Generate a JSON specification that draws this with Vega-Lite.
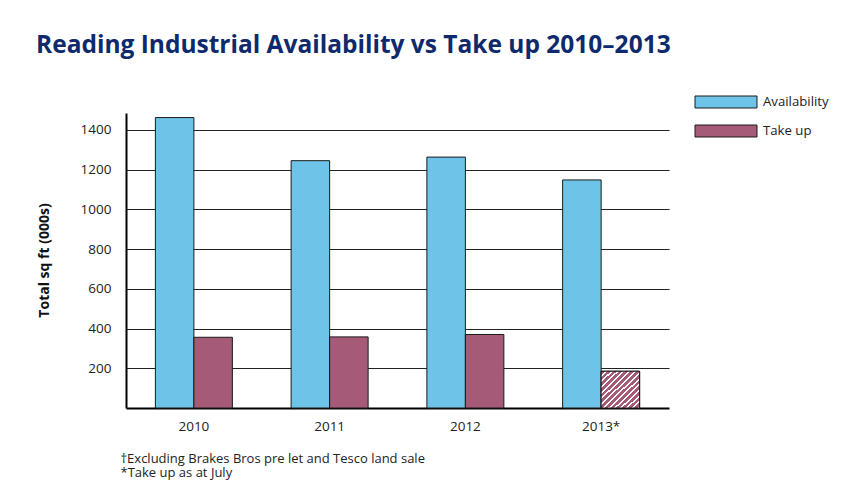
{
  "$schema": "https://vega.github.io/schema/vega-lite/v6.json",
  "autosize": "none",
  "padding": {"left": 126, "top": 113, "right": 195, "bottom": 83},
  "width": 543,
  "height": 295,
  "background": "white",
  "title": {
    "text": "Reading Industrial Availability vs Take up 2010–2013",
    "anchor": "start",
    "frame": "group",
    "dx": -90,
    "offset": 33,
    "font": "Open Sans",
    "fontSize": 24.5,
    "fontWeight": "bold",
    "color": "#0E2A6C"
  },
  "config": {
    "view": {"stroke": null},
    "font": "Open Sans"
  },
  "data": {
    "values": [
      {"year": "2010", "series": "Availability", "value": 1462, "partial": false},
      {"year": "2010", "series": "Take up", "value": 356, "partial": false},
      {"year": "2011", "series": "Availability", "value": 1245, "partial": false},
      {"year": "2011", "series": "Take up", "value": 358, "partial": false},
      {"year": "2012", "series": "Availability", "value": 1263, "partial": false},
      {"year": "2012", "series": "Take up", "value": 370, "partial": false},
      {"year": "2013*", "series": "Availability", "value": 1148, "partial": false},
      {"year": "2013*", "series": "Take up", "value": 185, "partial": true}
    ]
  },
  "encoding": {
    "x": {
      "field": "year",
      "type": "nominal",
      "sort": null,
      "scale": {"paddingInner": 0.433, "paddingOuter": 0.2165},
      "axis": {
        "title": ["†Excluding Brakes Bros pre let and Tesco land sale", "*Take up as at July"],
        "titleAnchor": "start",
        "titleAlign": "left",
        "titleBaseline": "top",
        "titleX": -6,
        "titleY": 44,
        "titleFontSize": 13,
        "titleFontWeight": "normal",
        "titleColor": "#222222",
        "titleLineHeight": 14,
        "labelAngle": 0,
        "labelFontSize": 13.5,
        "labelColor": "#222222",
        "labelPadding": 11,
        "ticks": false,
        "domainColor": "#000000",
        "domainWidth": 2,
        "grid": false
      }
    },
    "xOffset": {"field": "series", "type": "nominal", "scale": {"paddingInner": 0, "paddingOuter": 0}},
    "y": {
      "field": "value",
      "type": "quantitative",
      "scale": {"domain": [0, 1485], "nice": false},
      "axis": {
        "title": "Total sq ft (000s)",
        "titleFontSize": 14,
        "titleFontWeight": "bold",
        "titleColor": "#111111",
        "titleAngle": -90,
        "titleX": -82,
        "titleY": 147,
        "titleAlign": "center",
        "titleBaseline": "middle",
        "values": [200, 400, 600, 800, 1000, 1200, 1400],
        "format": "d",
        "labelFontSize": 13.5,
        "labelColor": "#222222",
        "labelPadding": 15,
        "ticks": false,
        "domainColor": "#000000",
        "domainWidth": 2,
        "grid": true,
        "gridColor": "#222222",
        "gridWidth": 1.2
      }
    }
  },
  "layer": [
    {
      "mark": {"type": "bar", "stroke": "#1a1a1a", "strokeWidth": 1},
      "encoding": {
        "color": {
          "field": "series",
          "type": "nominal",
          "scale": {"domain": ["Availability", "Take up"], "range": ["#6EC4E8", "#A55A77"]},
          "legend": {
            "title": null,
            "orient": "none",
            "legendX": 589,
            "legendY": -22,
            "symbolType": "M-3,-0.58L3,-0.58L3,0.58L-3,0.58Z",
            "symbolSize": 427,
            "symbolStrokeColor": "#1a1a1a",
            "symbolStrokeWidth": 1,
            "symbolOpacity": 1,
            "labelFontSize": 13.2,
            "labelColor": "#222222",
            "labelOffset": 26,
            "rowPadding": 10
          }
        }
      }
    },
    {
      "transform": [{"filter": "datum.partial"}],
      "mark": {
        "type": "bar",
        "stroke": "#1a1a1a",
        "strokeWidth": 1,
        "fill": {
          "gradient": "linear",
          "x1": 0, "y1": 0, "x2": 1, "y2": 1,
          "stops": [
            {"offset": 0, "color": "#A55A77"}, {"offset": 0.05, "color": "#A55A77"}, {"offset": 0.05, "color": "#FFFFFF"}, {"offset": 0.0769, "color": "#FFFFFF"},
            {"offset": 0.0769, "color": "#A55A77"}, {"offset": 0.1269, "color": "#A55A77"}, {"offset": 0.1269, "color": "#FFFFFF"}, {"offset": 0.1538, "color": "#FFFFFF"},
            {"offset": 0.1538, "color": "#A55A77"}, {"offset": 0.2038, "color": "#A55A77"}, {"offset": 0.2038, "color": "#FFFFFF"}, {"offset": 0.2308, "color": "#FFFFFF"},
            {"offset": 0.2308, "color": "#A55A77"}, {"offset": 0.2808, "color": "#A55A77"}, {"offset": 0.2808, "color": "#FFFFFF"}, {"offset": 0.3077, "color": "#FFFFFF"},
            {"offset": 0.3077, "color": "#A55A77"}, {"offset": 0.3577, "color": "#A55A77"}, {"offset": 0.3577, "color": "#FFFFFF"}, {"offset": 0.3846, "color": "#FFFFFF"},
            {"offset": 0.3846, "color": "#A55A77"}, {"offset": 0.4346, "color": "#A55A77"}, {"offset": 0.4346, "color": "#FFFFFF"}, {"offset": 0.4615, "color": "#FFFFFF"},
            {"offset": 0.4615, "color": "#A55A77"}, {"offset": 0.5115, "color": "#A55A77"}, {"offset": 0.5115, "color": "#FFFFFF"}, {"offset": 0.5385, "color": "#FFFFFF"},
            {"offset": 0.5385, "color": "#A55A77"}, {"offset": 0.5885, "color": "#A55A77"}, {"offset": 0.5885, "color": "#FFFFFF"}, {"offset": 0.6154, "color": "#FFFFFF"},
            {"offset": 0.6154, "color": "#A55A77"}, {"offset": 0.6654, "color": "#A55A77"}, {"offset": 0.6654, "color": "#FFFFFF"}, {"offset": 0.6923, "color": "#FFFFFF"},
            {"offset": 0.6923, "color": "#A55A77"}, {"offset": 0.7423, "color": "#A55A77"}, {"offset": 0.7423, "color": "#FFFFFF"}, {"offset": 0.7692, "color": "#FFFFFF"},
            {"offset": 0.7692, "color": "#A55A77"}, {"offset": 0.8192, "color": "#A55A77"}, {"offset": 0.8192, "color": "#FFFFFF"}, {"offset": 0.8462, "color": "#FFFFFF"},
            {"offset": 0.8462, "color": "#A55A77"}, {"offset": 0.8962, "color": "#A55A77"}, {"offset": 0.8962, "color": "#FFFFFF"}, {"offset": 0.9231, "color": "#FFFFFF"},
            {"offset": 0.9231, "color": "#A55A77"}, {"offset": 0.9731, "color": "#A55A77"}, {"offset": 0.9731, "color": "#FFFFFF"}, {"offset": 1, "color": "#FFFFFF"}
          ]
        }
      }
    }
  ]
}
